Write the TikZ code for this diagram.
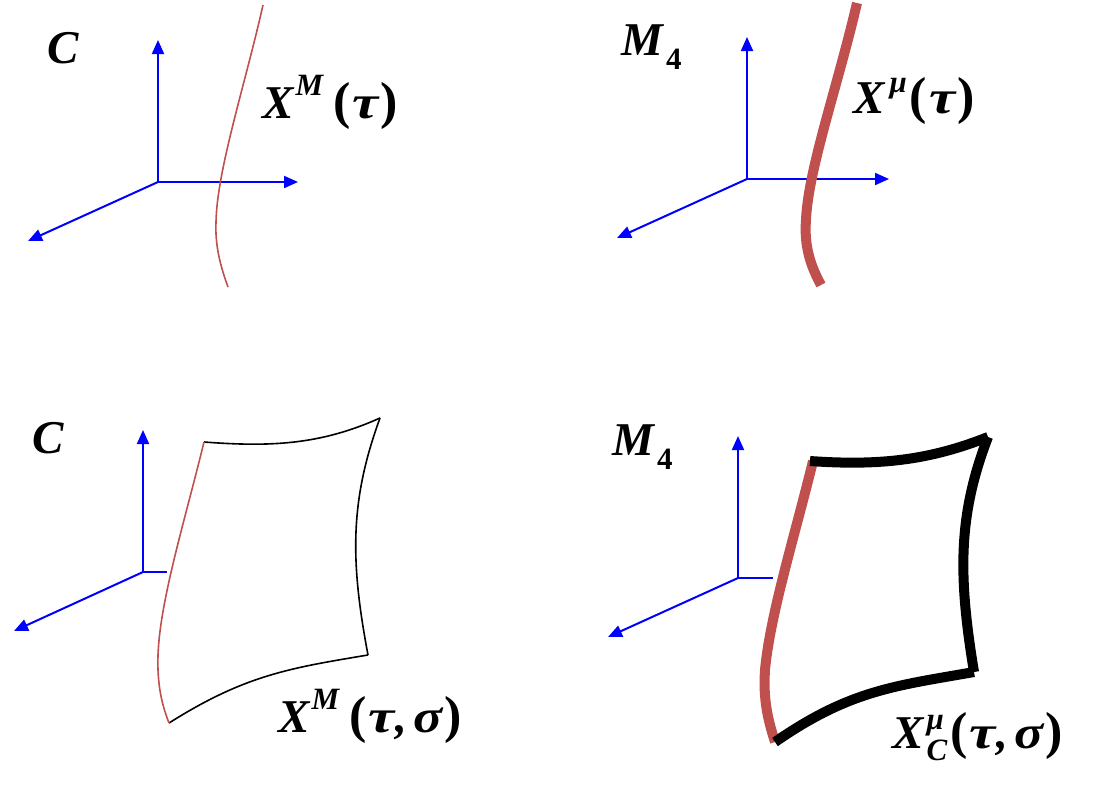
\documentclass[tikz,border=0pt]{standalone}
\usepackage{fontspec}
\usepackage{graphicx}
\setmainfont{Liberation Serif}
\usetikzlibrary{arrows.meta}
\definecolor{redc}{HTML}{C0504D}
\newcommand\supsc[2]{\raisebox{#1}{\fontsize{31}{31}\selectfont #2}}
\newcommand\lpar{{\fontsize{52}{52}\selectfont\upshape(}\kern2pt}
\newcommand\rpar{\kern2pt{\fontsize{52}{52}\selectfont\upshape)}}
\newcommand\wtau{\scalebox{1.25}[1]{τ}}
\newcommand\wsig{\scalebox{1.15}[1]{σ}}
\begin{document}
\begin{tikzpicture}[x=1pt,y=-1pt,
  axis/.style={blue, line width=2pt},
  axarrow/.style={axis, -{Triangle[length=14pt,width=12pt]}},
  thinred/.style={redc, line width=1.6pt},
  thickred/.style={redc, line width=10pt},
  thinblack/.style={black, line width=1.6pt},
  thickblack/.style={black, line width=10pt},
  lbl/.style={inner sep=0pt, anchor=base west, font=\fontsize{47}{50}\selectfont\bfseries\itshape}
]
\useasboundingbox (0,0) rectangle (1118,793);

% ---------- panel 1 ----------
\coordinate (o1) at (158,182);
\coordinate (u1) at (158,40);
\coordinate (r1) at (298,182);
\coordinate (d1) at (28,241);
\draw[axarrow] (o1) -- (u1);
\draw[axarrow] (o1) -- (r1);
\draw[axarrow] (o1) -- (d1);
\coordinate (c1a) at (263,5);
\coordinate (c1b) at (216,222);
\coordinate (c1c) at (228,287);
\draw[thinred] (c1a) .. controls (245,85) and (217,170) .. (c1b) .. controls (215,245) and (220,265) .. (c1c);
\node[lbl] (lC1) at (47,63) {C};
\node[lbl] (lX1) at (262,118) {X\kern2pt\supsc{23pt}{M}\kern10pt\lpar\wtau\rpar};

% ---------- panel 2 ----------
\coordinate (o2) at (747,179);
\coordinate (u2) at (747,37);
\coordinate (r2) at (889,179);
\coordinate (d2) at (617,238);
\draw[axarrow] (o2) -- (u2);
\draw[axarrow] (o2) -- (r2);
\draw[axarrow] (o2) -- (d2);
\coordinate (c2a) at (857,3);
\coordinate (c2b) at (806,220);
\coordinate (c2c) at (821,285);
\draw[thickred] (c2a) .. controls (838,85) and (808,170) .. (c2b) .. controls (804,245) and (810,265) .. (c2c);
\node[lbl] (lM2) at (621,55) {M\kern3pt\raisebox{-14pt}{\fontsize{31}{31}\selectfont\upshape 4}};
\node[lbl] (lX2) at (853,113) {X\kern5pt\supsc{21pt}{μ}\kern3pt\lpar\wtau\rpar};

% ---------- panel 3 ----------
\coordinate (o3) at (143,572);
\coordinate (u3) at (143,430);
\coordinate (r3) at (167,572);
\coordinate (d3) at (14,631);
\draw[axarrow] (o3) -- (u3);
\draw[axis] (o3) -- (r3);
\draw[axarrow] (o3) -- (d3);
\coordinate (s3tl) at (204,442);
\coordinate (s3tr) at (380,418);
\coordinate (s3br) at (368,655);
\coordinate (s3bl) at (169,723);
\draw[thinblack] (s3tl) .. controls (270,447) and (320,445) .. (s3tr);
\draw[thinblack] (s3tr) .. controls (350,500) and (350,560) .. (s3br);
\draw[thinblack] (s3br) .. controls (290,668) and (245,675) .. (s3bl);
\draw[thinred] (s3tl) .. controls (185,520) and (160,600) .. (158,655) .. controls (157,685) and (162,705) .. (s3bl);
\node[lbl] (lC3) at (32,453) {C};
\node[lbl] (lX3) at (278,732) {X\kern2pt\supsc{23pt}{M}\kern10pt\lpar\wtau\kern1pt,\kern6pt\wsig\rpar};

% ---------- panel 4 ----------
\coordinate (o4) at (738,578);
\coordinate (u4) at (738,436);
\coordinate (r4) at (773,578);
\coordinate (d4) at (608,637);
\draw[axarrow] (o4) -- (u4);
\draw[axis] (o4) -- (r4);
\draw[axarrow] (o4) -- (d4);
\coordinate (s4tl) at (810,461);
\coordinate (s4tr) at (988,437);
\coordinate (s4br) at (974,672);
\coordinate (s4bl) at (775,742);
\draw[thickred] (813,461) .. controls (795,535) and (770,615) .. (765,670) .. controls (763,700) and (768,720) .. (s4bl);
\draw[thickblack] (s4tl) .. controls (880,466) and (930,460) .. (s4tr);
\draw[thickblack] (s4tr) .. controls (958,515) and (958,575) .. (s4br);
\draw[thickblack] (s4br) .. controls (895,686) and (850,690) .. (s4bl);
\node[lbl] (lM4) at (612,455) {M\kern3pt\raisebox{-14pt}{\fontsize{31}{31}\selectfont\upshape 4}};
\node[lbl] (lX4) at (892,748) {X\kern3pt\rlap{\supsc{19pt}{μ}}\supsc{-12pt}{C}\kern3pt\lpar\wtau\kern1pt,\kern6pt\wsig\rpar};
\end{tikzpicture}
\end{document}
